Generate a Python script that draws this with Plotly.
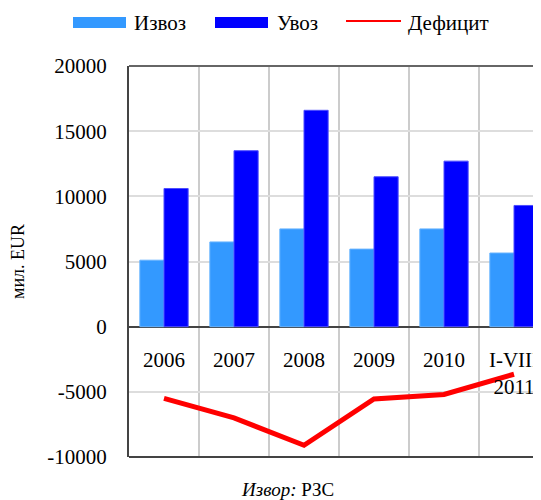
import plotly.graph_objects as go

categories = ["2006", "2007", "2008", "2009", "2010", "I-VIII<br>2011"]
izvoz = [5100, 6500, 7500, 5950, 7500, 5650]
uvoz = [10600, 13500, 16600, 11500, 12700, 9300]
deficit = [-5500, -7000, -9100, -5550, -5200, -3650]
y_tickvals = [-10000, -5000, 0, 5000, 10000, 15000, 20000]
y_ticktext = ["-10000", "-5000", "0", "5000", "10000", "15000", "20000"]

names = ["Извоз", "Увоз", "Дефицит"]
col_izvoz = "#3399FF"
col_uvoz = "#0000FF"
col_def = "#FF0000"
FONT = "Liberation Serif, Times New Roman, serif"

OFF = 8  # default page body margin
W, H = 541 - OFF, 500 - OFF
ML, MT = 129 - OFF, 66 - OFF
MB = H - (457 - OFF)
MR = 0
PW, PH = W - ML - MR, H - MT - MB

def px2x(px):
    return (px - OFF - ML) / PW

def px2y(py):
    return (H - MB - (py - OFF)) / PH

fig = go.Figure()
fig.add_trace(go.Bar(x=categories, y=izvoz, name=names[0], marker=dict(color=col_izvoz, line=dict(color="#66B3FF", width=1)), showlegend=False))
fig.add_trace(go.Bar(x=categories, y=uvoz, name=names[1], marker=dict(color=col_uvoz, line=dict(color="#4D4DFF", width=1)), showlegend=False))
fig.add_trace(go.Scatter(x=categories, y=deficit, name=names[2], mode="lines", line=dict(color=col_def, width=5), showlegend=False))

ymin, ymax = -10000, 20000
zero_pos = (0 - ymin) / (ymax - ymin)

fig.update_layout(
    width=W, height=H,
    margin=dict(l=ML, r=MR, t=MT, b=MB, pad=0, autoexpand=False),
    paper_bgcolor="white", plot_bgcolor="white",
    barmode="group", bargap=0.31, bargroupgap=0,
    font=dict(family=FONT, size=19, color="black"),
    xaxis=dict(
        type="category", range=[-0.5, 5.5 - 8 / 70],
        anchor="free", position=zero_pos, automargin=False,
        tickson="boundaries", showgrid=True, gridcolor="#CCCCCC", gridwidth=2,
        showline=False, ticks="", ticklabelstandoff=18,
        tickfont=dict(family=FONT, size=21, color="black"),
        zeroline=False,
    ),
    yaxis=dict(
        range=[ymin, ymax], tickvals=y_tickvals, ticktext=y_ticktext,
        automargin=False,
        showgrid=True, gridcolor="#DDDDDD", gridwidth=2,
        zeroline=True, zerolinecolor="#444444", zerolinewidth=2,
        showline=True, linecolor="#444444", linewidth=2,
        ticks="outside", ticklen=16, tickcolor="rgba(0,0,0,0)",
        tickfont=dict(family=FONT, size=21, color="black"),
        title=dict(text="мил. EUR", font=dict(family=FONT, size=18, color="black"), standoff=36),
    ),
)

shapes = [
    dict(type="line", xref="paper", yref="paper", x0=0, x1=1, y0=0, y1=0, line=dict(color="#444444", width=2)),
    dict(type="line", xref="paper", yref="paper", x0=0, x1=1, y0=1, y1=1, line=dict(color="#666666", width=2)),
    dict(type="rect", xref="paper", yref="paper", x0=px2x(73), x1=px2x(126), y0=px2y(28), y1=px2y(17), fillcolor=col_izvoz, line=dict(width=0)),
    dict(type="rect", xref="paper", yref="paper", x0=px2x(215), x1=px2x(268), y0=px2y(28), y1=px2y(17), fillcolor=col_uvoz, line=dict(width=0)),
    dict(type="line", xref="paper", yref="paper", x0=px2x(346), x1=px2x(401), y0=px2y(21), y1=px2y(21), line=dict(color=col_def, width=2)),
]
annotations = [
    dict(text=names[0], xref="paper", yref="paper", x=px2x(132), y=px2y(23), xanchor="left", yanchor="middle", showarrow=False, font=dict(family=FONT, size=21)),
    dict(text=names[1], xref="paper", yref="paper", x=px2x(275), y=px2y(23), xanchor="left", yanchor="middle", showarrow=False, font=dict(family=FONT, size=21)),
    dict(text=names[2], xref="paper", yref="paper", x=px2x(406), y=px2y(23), xanchor="left", yanchor="middle", showarrow=False, font=dict(family=FONT, size=21)),
    dict(text="<i>Извор:</i> РЗС", xref="paper", yref="paper", x=px2x(287), y=px2y(489), xanchor="center", yanchor="middle", showarrow=False, font=dict(family=FONT, size=19)),
]
fig.update_layout(shapes=shapes, annotations=annotations)

fig.write_html("out.html")
